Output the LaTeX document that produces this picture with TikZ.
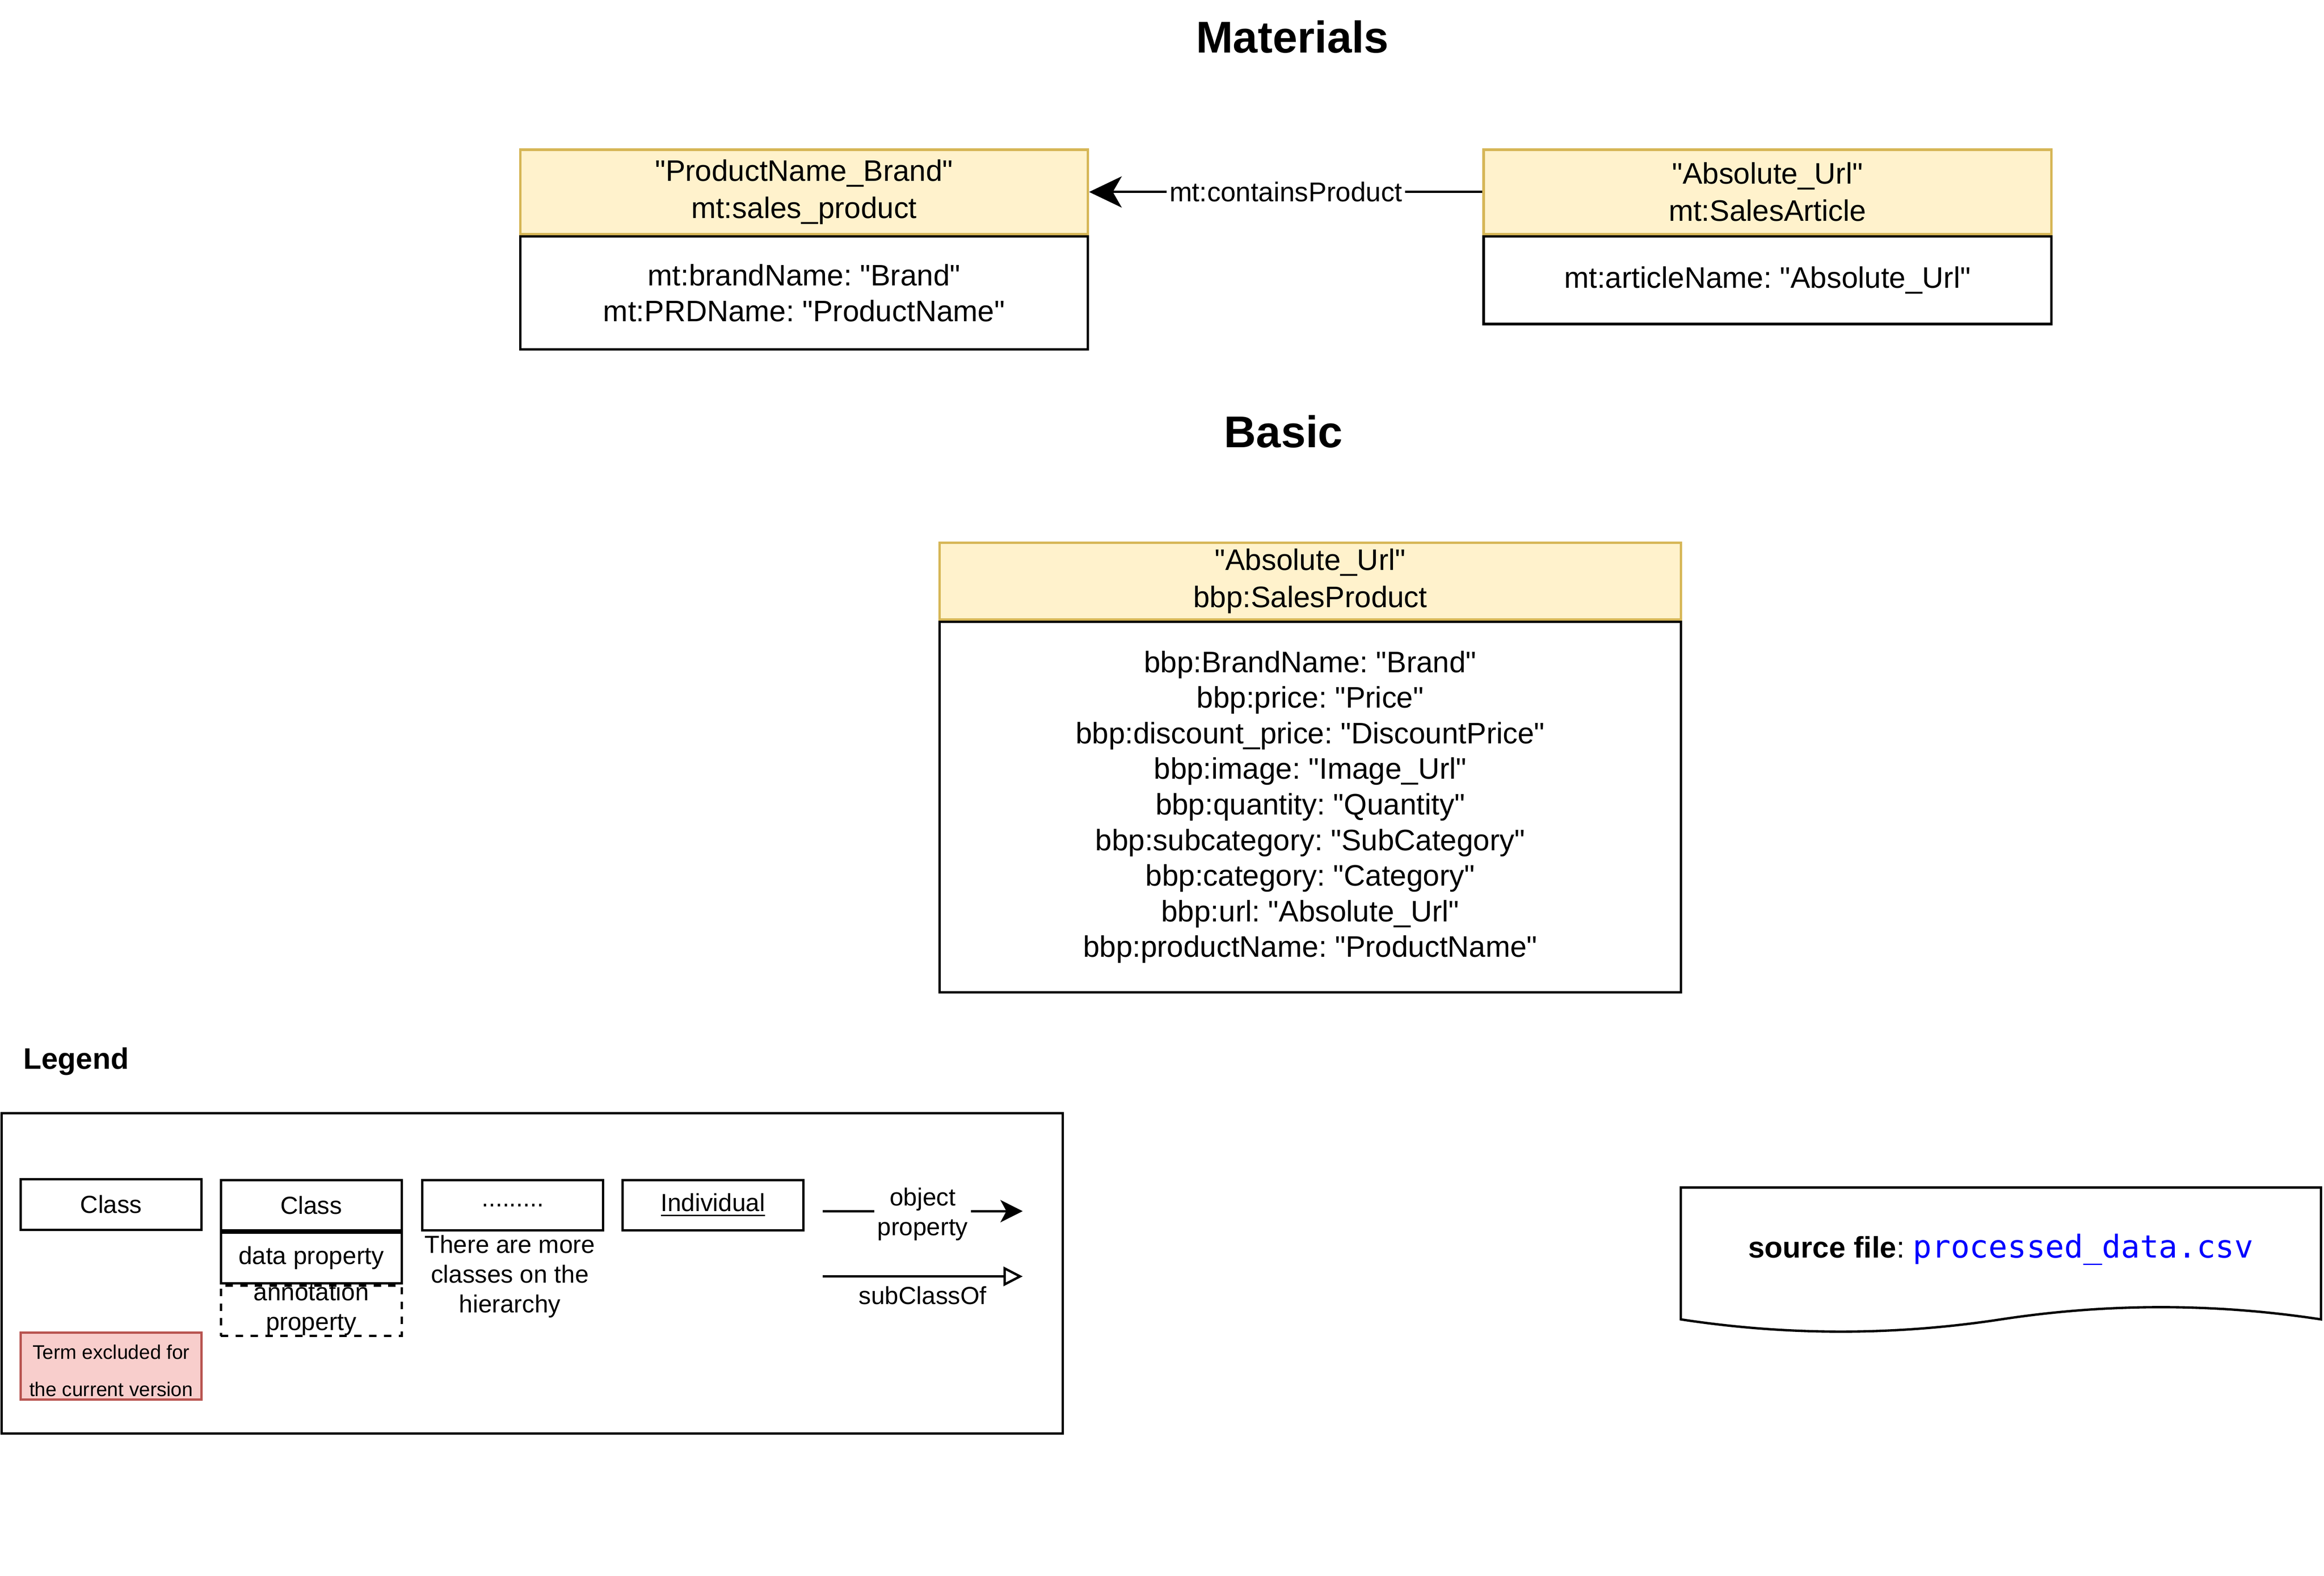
\documentclass[tikz,border=0pt]{standalone}
\usepackage{fontspec}
\setmainfont{Liberation Sans}[Ligatures=TeXOff]
\setmonofont{DejaVu Sans Mono}
\usepackage{xcolor}
\usepackage{tikz}
\usetikzlibrary{positioning,arrows.meta}

\definecolor{headfill}{HTML}{FFF2CC}
\definecolor{headline}{HTML}{D6B656}
\definecolor{exfill}{HTML}{F8CECC}
\definecolor{exline}{HTML}{B85450}
\definecolor{codeblue}{HTML}{0000FF}

\newcommand{\txttitle}{\fontsize{15}{18}\selectfont}
\newcommand{\txtmain}{\fontsize{10}{12}\selectfont}
\newcommand{\txthead}{\fontsize{10}{12.5}\selectfont}
\newcommand{\txtlabel}{\fontsize{9.17}{11}\selectfont}
\newcommand{\txtleg}{\fontsize{8.33}{10}\selectfont}
\newcommand{\txtsmall}{\fontsize{6.67}{12.5}\selectfont}
\frenchspacing

\tikzset{
	pagetitle/.style={font=\txttitle\bfseries,inner sep=0pt},
	head/.style={draw=headline,fill=headfill,align=center,font=\txthead,inner sep=2pt},
	body/.style={draw=black,fill=white,align=center,font=\txtmain,inner sep=2pt},
	legbox/.style={draw=black,fill=white,align=center,font=\txtleg,minimum width=61pt,minimum height=17pt,inner sep=0pt},
	legtext/.style={align=center,font=\txtleg,inner sep=1pt},
}

\begin{document}
\begin{tikzpicture}[x=0.5pt,y=-0.5pt,line width=0.8pt]
		\useasboundingbox (0,0) rectangle (1568,1063);
		\node[pagetitle] (mattitle) at (872,25) {Materials};
		\node[pagetitle] (basictitle) at (866,291) {Basic};

		\node[head,minimum width=191.5pt,minimum height=28.5pt] (prodhead) at (542.5,129.5) {"ProductName\_Brand"\\mt:sales\_product};
		\node[body,minimum width=191.5pt,minimum height=38pt,below=0pt of prodhead] (prodbody) {mt:brandName: "Brand"\\mt:PRDName: "ProductName"};
		\node[head,minimum width=191.5pt,minimum height=28.5pt] (arthead) at (1192.5,129.5) {"Absolute\_Url"\\mt:SalesArticle};
		\node[body,minimum width=191.5pt,minimum height=29.5pt,below=0pt of arthead] (artbody) {mt:articleName: "Absolute\_Url"};
		\draw[-{Stealth[length=11pt,width=10.5pt,inset=3pt]}] (arthead) -- node[fill=white,font=\txtlabel,inner sep=1pt] {mt:containsProduct} (prodhead);

		\node[head,minimum width=250pt,minimum height=25pt] (salehead) at (884,392) {"Absolute\_Url"\\bbp:SalesProduct};
		\node[body,minimum width=250pt,minimum height=125pt,below=0pt of salehead] (salebody) {bbp:BrandName: "Brand"\\bbp:price: "Price"\\bbp:discount\_price: "DiscountPrice"\\bbp:image: "Image\_Url"\\bbp:quantity: "Quantity"\\bbp:subcategory: "SubCategory"\\bbp:category: "Category"\\bbp:url: "Absolute\_Url"\\bbp:productName: "ProductName"};

		\node[anchor=west,font=\txtmain\bfseries,inner sep=0pt] (legtitle) at (15,716) {Legend};
		\node[draw=black,minimum width=358pt,minimum height=108pt,inner sep=0pt] (legframe) at (359,859) {};
		\node[legbox] (cls) at (75,812.5) {Class};
		\node[legbox] (clsb) at (210,813) {Class};
		\node[legbox,below=0pt of clsb] (dataprop) {data property};
		\node[legbox,dashed,dash pattern=on 2.5pt off 2.5pt,below=0pt of dataprop] (annprop) {};
		\node[legtext] (anntext) at (210,883) {annotation\\property};
		\node[legbox] (more) at (346,813) {.........};
		\node[legtext] (moretext) at (344,861) {There are more\\classes on the\\hierarchy};
		\node[legbox] (indiv) at (481,813) {\underline{Individual}};
		\node[draw=exline,fill=exfill,minimum width=61pt,minimum height=22.5pt,align=center,font=\txtsmall,inner sep=0pt] (excl) at (75,921.5) {};
		\node[align=center,font=\txtsmall,inner sep=0pt] (excltext) at (75,924.5) {Term excluded for\\the current version};
		\coordinate (opa) at (555,817);
		\coordinate (opb) at (690,817);
		\draw[-{Stealth[length=7.5pt,width=7.5pt,inset=2pt]}] (opa) -- node[legtext,fill=white,yshift=-1pt] {object\\property} (opb);
		\coordinate (sca) at (555,861);
		\coordinate (scb) at (690,861);
		\draw[-{Triangle[open,length=6.5pt,width=6.5pt]}] (sca) -- node[legtext,below=2pt] {subClassOf} (scb);

		\draw[fill=white] (1134,890) -- (1134,801) -- (1566,801) -- (1566,890) .. controls (1494,879) and (1422,879) .. (1350,890) .. controls (1278,901) and (1206,901) .. (1134,890) -- cycle;
		\node[font=\txtmain,inner sep=0pt] (srcfile) at (1350,843) {\textbf{source file}: {\fontsize{10.6}{12}\selectfont\ttfamily\color{codeblue}processed\_data.csv}};
	\end{tikzpicture}
\end{document}
